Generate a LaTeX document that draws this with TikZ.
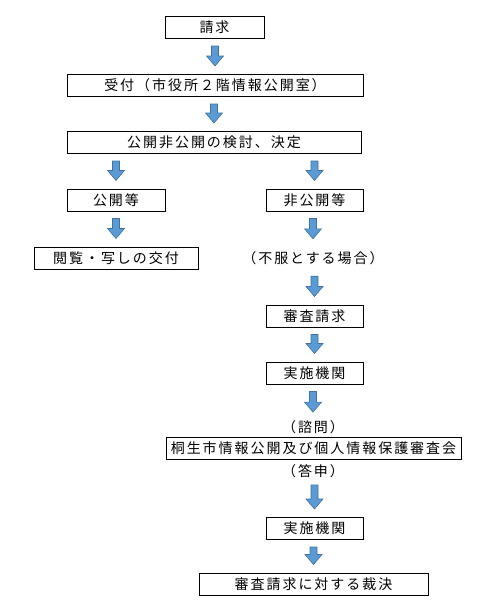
\documentclass[tikz,border=0pt]{standalone}
\usepackage{fontspec}
\newfontfamily\jpfont[LetterSpace=14]{Noto Sans CJK JP}
\usetikzlibrary{calc}
\definecolor{arrowfill}{HTML}{5B9BD5}
\definecolor{arrowline}{HTML}{41719C}
\tikzset{
    box/.style={draw, line width=1pt, minimum height=22, inner sep=0pt},
    note/.style={inner sep=0pt, minimum height=22},
    remark/.style={inner sep=0pt, minimum height=12},
    blk/.style={fill=arrowfill, draw=arrowline, line width=0.6pt,
        to path={let \p1=(\tikztostart), \p2=(\tikztotarget) in
            (\x2-3.5pt,\y1-7pt) -- (\x2+3.5pt,\y1-7pt) -- (\x2+3.5pt,\y2+18pt)
            -- (\x2+8.5pt,\y2+18pt) -- (\x2,\y2+8pt) -- (\x2-8.5pt,\y2+18pt)
            -- (\x2-3.5pt,\y2+18pt) -- cycle}}
}
\begin{document}
\begin{tikzpicture}[x=1pt, y=-1pt, font=\jpfont\fontsize{14}{16}\selectfont]
    \useasboundingbox (0,0) rectangle (497,614);
    % Main steps
    \node[box, minimum width=99] (req) at (214.5,27.5) {請求};
    \node[box, minimum width=296] (rcpt) at (215,85.5) {受付（市役所２階情報公開室）};
    \node[box, minimum width=294] (decide) at (214,142.5) {公開非公開の検討、決定};
    % Left branch
    \node[box, minimum width=98] (pub) at (116,200) {公開等};
    \node[box, minimum width=164] (view) at (116,258) {閲覧・写しの交付};
    % Right branch
    \node[box, minimum width=97] (nonpub) at (314.5,200) {非公開等};
    \node[note] (objn) at (313,258) {（不服とする場合）};
    \node[box, minimum width=97] (appeal) at (314.5,316) {審査請求};
    \node[box, minimum width=97] (agency) at (314.5,373) {実施機関};
    \node[remark] (inq) at (313,427) {（諮問）};
    \node[box, minimum width=295] (council) at (313.5,448) {桐生市情報公開及び個人情報保護審査会};
    \node[remark] (ans) at (313,471) {（答申）};
    \node[box, minimum width=97] (agency2) at (314.5,528.5) {実施機関};
    \node[box, minimum width=229] (ruling) at (313.5,584) {審査請求に対する裁決};

    % Block arrows
    \draw[blk] (req.south) to (rcpt.north);
    \draw[blk] (rcpt.south) to (decide.north);
    \draw[blk] (decide.south) to (pub.north);
    \draw[blk] (decide.south) to (nonpub.north);
    \draw[blk] (pub.south) to (view.north);
    \draw[blk] (nonpub.south) to (objn.north);
    \draw[blk] (objn.south) to (appeal.north);
    \draw[blk] (appeal.south) to (agency.north);
    \draw[blk] (agency.south) to (inq.north);
    \draw[blk] (ans.south) to (agency2.north);
    \draw[blk] (agency2.south) to (ruling.north);
\end{tikzpicture}
\end{document}
